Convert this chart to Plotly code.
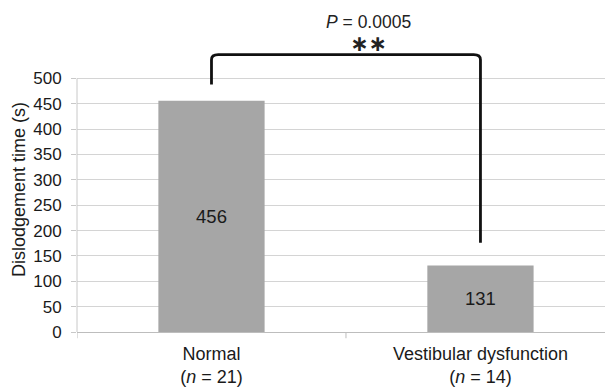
import plotly.graph_objects as go

categories = ["Normal<br>(<i>n</i> = 21)", "Vestibular dysfunction<br>(<i>n</i> = 14)"]
values = [456, 131]
bar_labels = ["456", "131"]
y_ticks = [0, 50, 100, 150, 200, 250, 300, 350, 400, 450, 500]
p_text = "<i>P</i> = 0.0005"
stars = "∗∗"
bracket_left_bottom = 488
bracket_right_bottom = 176
bracket_top = 547

font = "Liberation Sans, Arial, sans-serif"

fig = go.Figure()
fig.add_trace(go.Bar(
    x=[0, 1], y=values, width=0.395,
    marker=dict(color="#a6a6a6", line=dict(width=0)),
    text=bar_labels, textposition="inside", insidetextanchor="middle",
    textfont=dict(size=18.5, color="#1a1a1a", family=font),
    hoverinfo="skip",
))

# significance bracket (rounded corners)
r_x = 0.025
r_y = 10
path = (f"M 0,{bracket_left_bottom} L 0,{bracket_top - r_y} "
        f"Q 0,{bracket_top} {r_x},{bracket_top} "
        f"L {1 - r_x},{bracket_top} "
        f"Q 1,{bracket_top} 1,{bracket_top - r_y} "
        f"L 1,{bracket_right_bottom}")
fig.add_shape(type="path", path=path, xref="x", yref="y",
              line=dict(color="#111111", width=2.8))

# y axis line only from 0 to 500
fig.add_shape(type="line", xref="paper", yref="y", x0=0, x1=0, y0=0, y1=500,
              line=dict(color="#c8c8c8", width=1))

sig_text = (p_text + "<br><span style='font-family:DejaVu Sans;font-size:22px'><b>"
            + stars + "</b></span>")
fig.add_annotation(x=0.585, y=1.05, xref="x", yref="paper", text=sig_text, showarrow=False,
                   xanchor="center", yanchor="middle", align="center",
                   font=dict(size=17.5, color="#222", family=font))
fig.add_annotation(x=0, y=0.5, xref="paper", yref="paper", xshift=-58,
                   text="Dislodgement time (s)", textangle=-90, showarrow=False,
                   xanchor="center", yanchor="middle",
                   font=dict(size=18, color="#1a1a1a", family=font))

fig.update_layout(
    width=605, height=387,
    margin=dict(l=77, r=0, t=48, b=55),
    paper_bgcolor="white", plot_bgcolor="white",
    showlegend=False,
    xaxis=dict(
        type="linear", range=[-0.5, 1.463], automargin=False,
        tickmode="array", tickvals=[0, 1], ticktext=categories,
        showgrid=False, zeroline=False, showline=False,
        ticks="", ticklabelstandoff=9,
        tickfont=dict(size=18, color="#1a1a1a", family=font),
    ),
    yaxis=dict(
        range=[0, 560], automargin=False, tickmode="array", tickvals=y_ticks,
        showgrid=True, gridcolor="#d4d4d4", gridwidth=1,
        zeroline=True, zerolinecolor="#bdbdbd", zerolinewidth=1,
        showline=False, ticks="outside", ticklen=5, tickcolor="#c8c8c8",
        ticklabelstandoff=6,
        tickfont=dict(size=17, color="#1a1a1a", family=font),
    ),
)

# x tick marks at category boundaries
for xb in [-0.5, 0.5]:
    fig.add_shape(type="line", xref="x", yref="paper", x0=xb, x1=xb, y0=0, y1=-0.022,
                  line=dict(color="#bdbdbd", width=1))

fig.write_html("out.html", config={"displayModeBar": False},
               post_script="document.body.style.margin='0';document.body.style.overflow='hidden';")
